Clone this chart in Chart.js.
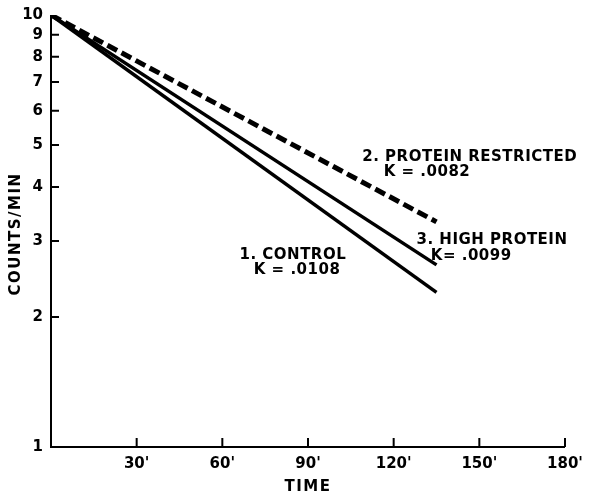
<!DOCTYPE html>
<html>
<head>
<meta charset="utf-8">
<script src="https://cdn.jsdelivr.net/npm/chart.js@4"></script>
<style>
  html, body { margin:0; padding:0; background:#fff; }
  #wrap { width:589px; height:498px; }
</style>
</head>
<body>
<div id="wrap"><canvas id="decay"></canvas></div>
<script>
// data
const times = [0, 135];
const control = [10, 2.28];
const proteinRestricted = [10, 3.32];
const highProtein = [10, 2.64];

const yTicks = [1, 2, 3, 4, 5, 6, 7, 8, 9, 10];
const xTicks = [0, 30, 60, 90, 120, 150, 180];

// text labels inside the plot, in data units [x, y, text]
const notes = [
    [109, 4.69, '2. PROTEIN RESTRICTED'],
    [116.5, 4.33, 'K = .0082'],
    [128, 3.01, '3. HIGH PROTEIN'],
    [133, 2.77, 'K= .0099'],
    [66, 2.78, '1. CONTROL'],
    [71, 2.57, 'K = .0108']
];

const pts = ys => times.map((t, i) => ({ x: t, y: ys[i] }));
const FONT = 'DejaVu Sans, Verdana, sans-serif';

const axisMarks = {
    id: 'axisMarks',
    afterDraw(chart) {
        const { ctx, chartArea: a, scales: { x, y } } = chart;
        ctx.save();
        ctx.strokeStyle = '#000';
        ctx.lineWidth = 2;
        ctx.beginPath();
        ctx.moveTo(a.left, a.top); ctx.lineTo(a.left, a.bottom); ctx.lineTo(a.right, a.bottom);
        ctx.stroke();
        // inward ticks
        ctx.beginPath();
        yTicks.slice(1, -1).forEach(v => {
            const py = y.getPixelForValue(v);
            ctx.moveTo(a.left, py); ctx.lineTo(a.left + 8, py);
        });
        xTicks.slice(1).forEach(v => {
            const px = x.getPixelForValue(v);
            ctx.moveTo(px, a.bottom); ctx.lineTo(px, a.bottom - 9);
        });
        ctx.stroke();
        // notes
        ctx.fillStyle = '#000';
        ctx.font = 'bold 15px ' + FONT;
        ctx.letterSpacing = '0.5px';
        ctx.textBaseline = 'middle';
        ctx.textAlign = 'left';
        notes.forEach(([nx, ny, txt]) => ctx.fillText(txt, x.getPixelForValue(nx), y.getPixelForValue(ny)));
        // axis titles
        ctx.font = 'bold 15px ' + FONT;
        ctx.letterSpacing = '1.5px';
        ctx.textAlign = 'center';
        ctx.fillText('TIME', (a.left + a.right) / 2, 487);
        ctx.translate(16, 234);
        ctx.rotate(-Math.PI / 2);
        ctx.fillText('COUNTS/MIN', 0, 0);
        ctx.restore();
    }
};

new Chart(document.getElementById('decay'), {
    type: 'line',
    data: {
        datasets: [
            { label: '1. Control', data: pts(control), borderColor: '#000', borderWidth: 3.5 },
            { label: '2. Protein restricted', data: pts(proteinRestricted), borderColor: '#000', borderWidth: 5, borderDash: [11, 5] },
            { label: '3. High protein', data: pts(highProtein), borderColor: '#000', borderWidth: 3.5 }
        ]
    },
    options: {
        responsive: true, maintainAspectRatio: false, animation: false,
        elements: { point: { radius: 0 }, line: { tension: 0, borderCapStyle: 'butt' } },
        layout: { padding: { top: 15, right: 24, left: 0, bottom: 0 } },
        plugins: { legend: { display: false }, tooltip: { enabled: false } },
        scales: {
            x: {
                type: 'linear', min: 0, max: 180,
                afterBuildTicks: s => { s.ticks = xTicks.map(v => ({ value: v })); },
                afterFit: s => { s.height = 51; },
                grid: { display: false }, border: { display: false },
                ticks: { color: '#000', font: { family: FONT, size: 15, weight: 'bold' }, padding: 0,
                         maxRotation: 0, callback: v => v === 0 ? '' : v + "'" }
            },
            y: {
                type: 'logarithmic', min: 1, max: 10,
                afterBuildTicks: s => { s.ticks = yTicks.map(v => ({ value: v })); },
                afterFit: s => { s.width = 51; },
                grid: { display: false }, border: { display: false },
                ticks: { color: '#000', font: { family: FONT, size: 15, weight: 'bold' }, padding: 0,
                         callback: v => String(v) }
            }
        }
    },
    plugins: [axisMarks]
});
</script>
</body>
</html>
